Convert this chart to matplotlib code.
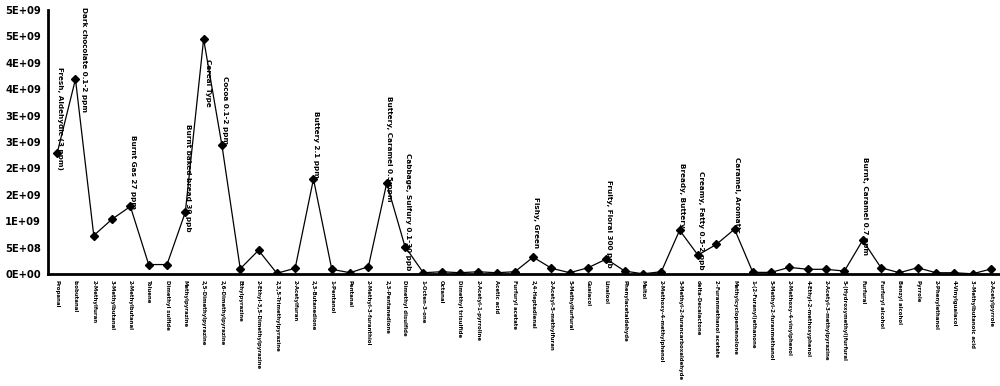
import matplotlib
matplotlib.use("Agg")
import matplotlib.pyplot as plt

compounds = [
    "Propanal", "Isobutanal", "2-Methylfuran", "3-Methylbutanal", "2-Methylbutanal",
    "Toluene", "Dimethyl sulfide", "Methylpyrazine", "2,5-Dimethylpyrazine",
    "2,6-Dimethylpyrazine", "Ethylpyrazine", "2-Ethyl-3,5-Dimethylpyrazine",
    "2,3,5-Trimethylpyrazine", "2-Acetylfuran", "2,3-Butanedione", "1-Pentanol",
    "Pentanal", "2-Methyl-3-furanthiol", "2,3-Pentanedione", "Dimethyl disulfide",
    "1-Octen-3-one", "Octanal", "Dimethyl trisulfide", "2-Acetyl-1-pyrroline",
    "Acetic acid", "Furfuryl acetate", "2,4-Heptadienal", "2-Acetyl-5-methylfuran",
    "5-Methylfurfural", "Guaiacol", "Linalool", "Phenylacetaldehyde", "Maltol",
    "2-Methoxy-4-methylphenol", "5-Methyl-2-furancarboxaldehyde", "delta-Decalactone",
    "2-Furanmethanol acetate", "Methylcyclopentenolone", "1-(2-Furanyl)ethanone",
    "5-Methyl-2-furanmethanol", "2-Methoxy-4-vinylphenol", "4-Ethyl-2-methoxyphenol",
    "2-Acetyl-3-methylpyrazine", "5-(Hydroxymethyl)furfural", "Furfural",
    "Furfuryl alcohol", "Benzyl alcohol", "Pyrrole", "2-Phenylethanol",
    "4-Vinylguaiacol", "3-Methylbutanoic acid", "2-Acetylpyrrole",
]

abundance = [
    2.29e9, 3.69e9, 7.3e8, 1.04e9, 1.28e9, 1.8e8, 1.8e8, 1.17e9, 4.45e9, 2.44e9,
    1.0e8, 4.5e8, 1.5e7, 1.1e8, 1.8e9, 9.0e7, 2.5e7, 1.4e8, 1.72e9, 5.2e8,
    2.5e7, 4.4e7, 2.5e7, 4.4e7, 2.5e7, 4.4e7, 3.2e8, 1.1e8, 2.5e7, 1.2e8,
    2.85e8, 5.7e7, 5e6, 4.4e7, 8.3e8, 3.6e8, 5.6e8, 8.5e8, 3.2e7, 3.2e7,
    1.27e8, 9.0e7, 9.0e7, 5.7e7, 6.4e8, 1.2e8, 2.5e7, 1.2e8, 2.5e7, 2.5e7,
    5e6, 9.5e7,
]

aroma_notes = {
    0: "Fresh, Aldehydic (3 ppm)",
    1: "Dark chocolate 0.1-2 ppm",
    4: "Burnt Gas 27 ppm",
    7: "Burnt baked bread 30 ppb",
    8: "Cereal Type",
    9: "Cocoa 0.1-2 ppm",
    14: "Buttery 2.1 ppm",
    18: "Buttery, Caramel 0.5 ppm",
    19: "Cabbage, Sulfury 0.1-30 ppb",
    26: "Fishy, Green",
    30: "Fruity, Floral 300 ppb",
    34: "Bready, Buttery",
    35: "Creamy, Fatty 0.5-2 ppb",
    37: "Caramel, Aromatic",
    44: "Burnt, Caramel 0.7 ppm",
}

y_ticks = [0, 5e8, 1e9, 1.5e9, 2e9, 2.5e9, 3e9, 3.5e9, 4e9, 4.5e9, 5e9]
y_tick_labels = ["0E+00", "5E+08", "1E+09", "2E+09", "2E+09", "3E+09",
                 "3E+09", "4E+09", "4E+09", "5E+09", "5E+09"]

DPI = 100
fig = plt.figure(figsize=(10, 3.86), dpi=DPI)
ax = fig.add_axes([0.048, 0.290, 0.952, 0.684])

x = list(range(len(compounds)))
ax.plot(x, abundance, color="black", linewidth=0.9, marker="D",
        markersize=4, markerfacecolor="black", markeredgecolor="black")

ax.set_xlim(-0.5, len(compounds) - 0.5)
ax.set_ylim(0, 5e9)
ax.set_xticks(x)
ax.set_xticklabels(compounds, rotation=-90, ha="center", va="top",
                   fontsize=3.9, fontweight="bold")
ax.set_yticks(y_ticks)
ax.set_yticklabels(y_tick_labels, fontsize=7.2, fontweight="bold")
ax.tick_params(axis="both", length=0)
ax.tick_params(axis="x", pad=4)
ax.tick_params(axis="y", pad=5)

for side in ["top", "right"]:
    ax.spines[side].set_visible(False)
for side in ["left", "bottom"]:
    ax.spines[side].set_linewidth(2)
    ax.spines[side].set_color("black")

# data labels: placed above the point, kept inside the figure
anns = []
for i, note in aroma_notes.items():
    a = ax.annotate(note, xy=(i, abundance[i]), xytext=(2, 25),
                    textcoords="offset points", rotation=-90, ha="center",
                    va="center", fontsize=5.2, fontweight="bold",
                    color="black", annotation_clip=False)
    anns.append((i, a))

fig.canvas.draw()
renderer = fig.canvas.get_renderer()
fig_h = fig.bbox.height
pt = DPI / 72.0
for i, a in anns:
    bb = a.get_window_extent(renderer)
    px, py = ax.transData.transform((i, abundance[i]))
    half = bb.height / 2.0
    cy = bb.y0 + half
    dx = 2
    top_limit = fig_h - 7
    if bb.y1 > top_limit:
        cy = top_limit - half
        dx = 6
        if cy - py < 12:
            # not enough room above: put it under the point
            cy = py - 20 - half
            dx = 3
    a.xyann = (dx, (cy - py) / pt)

fig.savefig("out.png", dpi=DPI, facecolor="white")
